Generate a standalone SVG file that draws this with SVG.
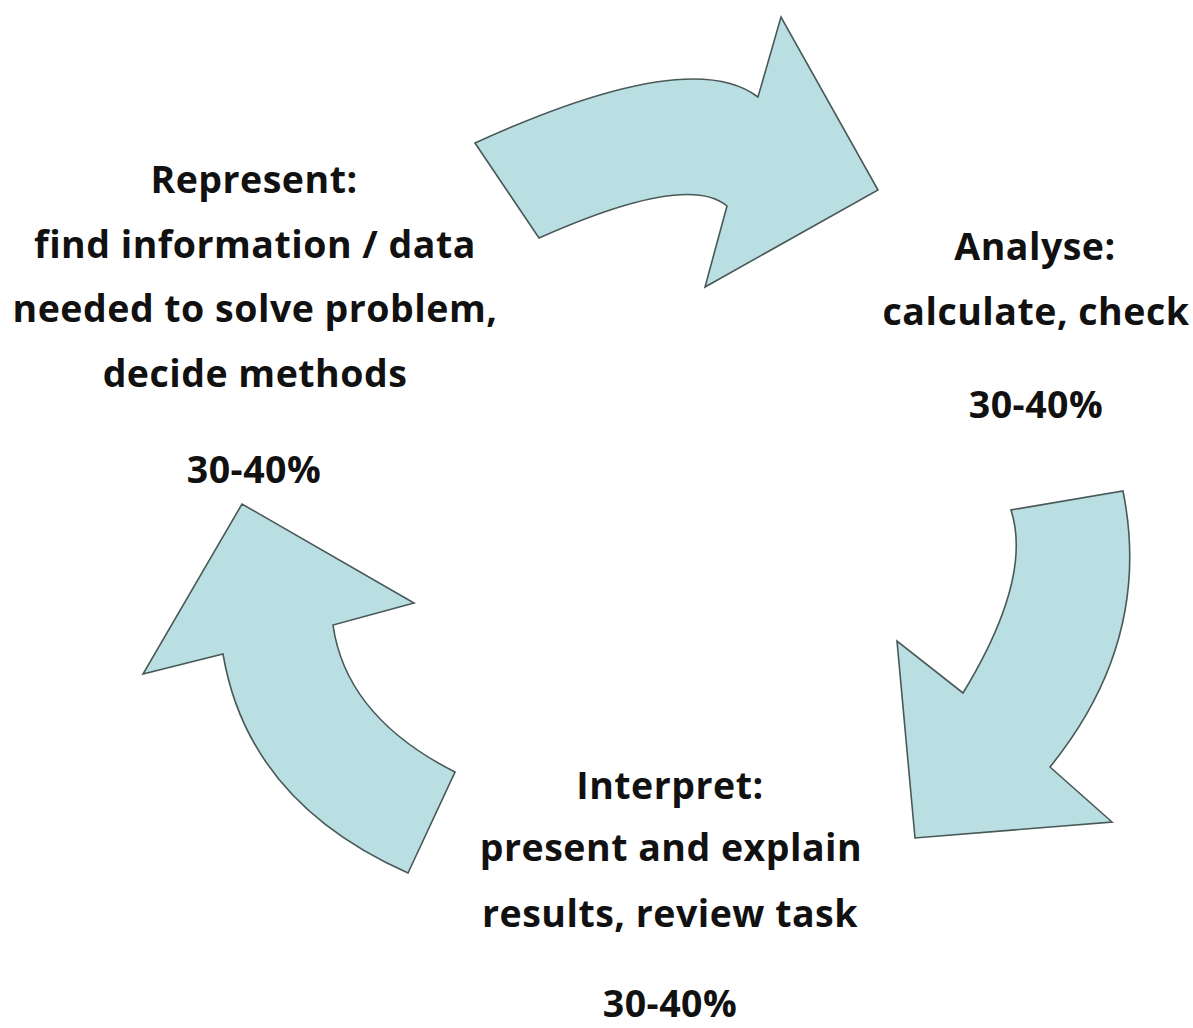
<svg xmlns="http://www.w3.org/2000/svg" width="1193" height="1028" viewBox="0 0 1193 1028">
<style>
.arrow{fill:#b9dfe2;stroke:#4a5858;stroke-width:1.6;stroke-linejoin:miter}
.lbl{font-family:"Open Sans",Lato,"Liberation Sans",sans-serif;font-weight:bold;font-size:37.5px;letter-spacing:0.5px;fill:#111;text-anchor:middle;font-variant-ligatures:none}
</style>
<rect width="1193" height="1028" fill="#fff"/>
<g id="connectors">
<path id="arrow-top" class="arrow" d="M475,143 Q690,45 758,97 L781,17 L878,190 L705,287 L727,206 Q687,172 539,238 Z"/>
<path id="arrow-right" class="arrow" d="M1123,491 Q1153,640 1050,767 L1112,822 L915,838 L897,641 L963,693 Q1033,578 1011,510 Z"/>
<path id="arrow-left" class="arrow" d="M455,772 Q346,717 333,625 L414,603 L242,504 L143,674 L223,654 Q248,802 408,873 Z"/>
</g>
<g id="node-represent">
<text class="lbl" x="254" y="193">Represent:</text>
<text class="lbl" x="255" y="258">find information / data</text>
<text class="lbl" x="255" y="322">needed to solve problem,</text>
<text class="lbl" x="255" y="387">decide methods</text>
<text class="lbl" x="254" y="483">30-40%</text>
</g>
<g id="node-analyse">
<text class="lbl" x="1035" y="260">Analyse:</text>
<text class="lbl" x="1036" y="325">calculate, check</text>
<text class="lbl" x="1036" y="418">30-40%</text>
</g>
<g id="node-interpret">
<text class="lbl" x="670" y="799">Interpret:</text>
<text class="lbl" x="671" y="861">present and explain</text>
<text class="lbl" x="670" y="927">results, review task</text>
<text class="lbl" x="670" y="1017">30-40%</text>
</g>
</svg>
